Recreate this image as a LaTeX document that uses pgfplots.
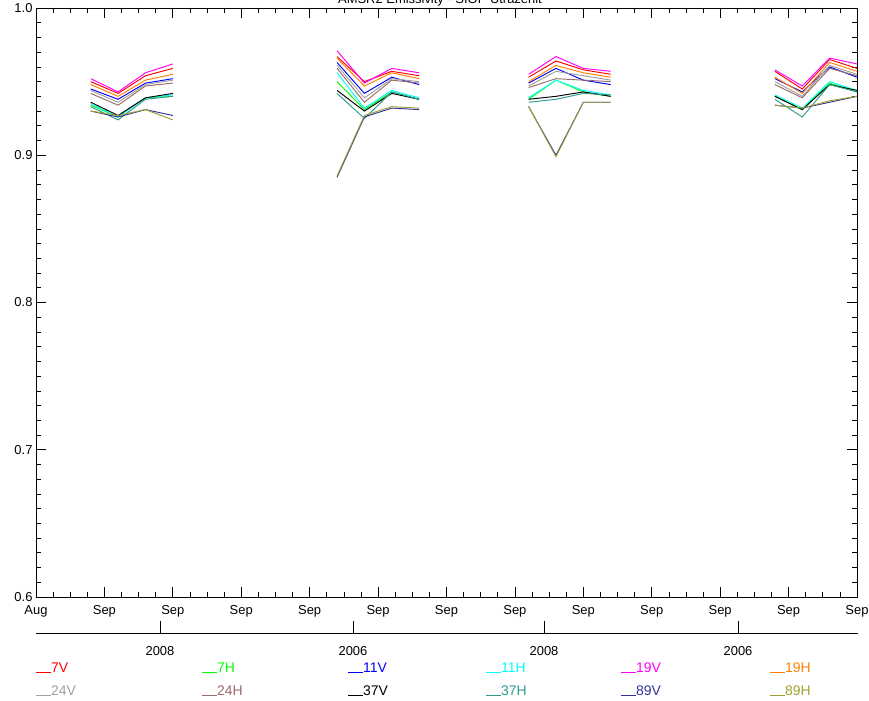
\documentclass[border=0pt]{standalone}
\usepackage{pgfplots}
\pgfplotsset{compat=1.18}
\usepackage{pgfplotstable}
\usepackage{fontspec}
\setmainfont{Liberation Sans}

\definecolor{cV7}{HTML}{FF0000}
\definecolor{cH7}{HTML}{00FF00}
\definecolor{cV11}{HTML}{0000FF}
\definecolor{cH11}{HTML}{00FFFF}
\definecolor{cV19}{HTML}{FF00FF}
\definecolor{cH19}{HTML}{FF8000}
\definecolor{cV24}{HTML}{A0A0A0}
\definecolor{cH24}{HTML}{9A6B6B}
\definecolor{cV37}{HTML}{000000}
\definecolor{cH37}{HTML}{2E9A90}
\definecolor{cV89}{HTML}{32329A}
\definecolor{cH89}{HTML}{A0A032}

\pgfplotstableread{
x    v7    h7    v11   h11   v19   h19   v24   h24   v37   h37   v89   h89
0.8  0.950 0.934 0.945 0.935 0.952 0.948 0.944 0.942 0.936 0.933 0.930 0.930
1.2  0.942 0.926 0.938 0.926 0.943 0.940 0.936 0.934 0.927 0.924 0.926 0.927
1.6  0.954 0.939 0.949 0.939 0.956 0.951 0.948 0.947 0.939 0.938 0.931 0.931
2.0  0.959 0.940 0.952 0.941 0.962 0.955 0.951 0.949 0.942 0.940 0.927 0.924
3.0  nan   nan   nan   nan   nan   nan   nan   nan   nan   nan   nan   nan
4.4  0.967 0.950 0.963 0.956 0.971 0.966 0.961 0.959 0.944 0.942 0.885 0.886
4.8  0.950 0.931 0.942 0.932 0.949 0.947 0.939 0.936 0.930 0.925 0.926 0.927
5.2  0.957 0.943 0.953 0.944 0.959 0.956 0.952 0.951 0.942 0.943 0.932 0.933
5.6  0.954 0.938 0.948 0.939 0.956 0.952 0.950 0.949 0.938 0.938 0.931 0.932
6.5  nan   nan   nan   nan   nan   nan   nan   nan   nan   nan   nan   nan
7.2  0.953 0.938 0.949 0.939 0.955 0.950 0.947 0.946 0.938 0.936 0.933 0.933
7.6  0.964 0.951 0.959 0.951 0.967 0.961 0.957 0.952 0.940 0.938 0.900 0.899
8.0  0.958 0.943 0.951 0.944 0.959 0.956 0.954 0.951 0.943 0.942 0.936 0.936
8.4  0.955 0.940 0.948 0.941 0.957 0.953 0.951 0.950 0.940 0.941 0.936 0.936
9.5  nan   nan   nan   nan   nan   nan   nan   nan   nan   nan   nan   nan
10.8 0.957 0.940 0.952 0.941 0.958 0.953 0.950 0.948 0.940 0.938 0.934 0.934
11.2 0.945 0.931 0.943 0.932 0.947 0.942 0.940 0.939 0.931 0.926 0.932 0.932
11.6 0.965 0.949 0.960 0.950 0.966 0.963 0.961 0.959 0.948 0.948 0.936 0.937
12.0 0.959 0.943 0.953 0.944 0.962 0.957 0.955 0.954 0.944 0.943 0.940 0.940
}\data

\begin{document}
\begin{tikzpicture}[font=\fontsize{13}{15}\selectfont]
\begin{axis}[
  at={(0,0)}, anchor=south west,
  scale only axis, width=821bp, height=589bp,
  xmin=0, xmax=12, ymin=0.6, ymax=1.0,
  enlargelimits=false,
  xtick={0,1,2,3,4,5,6,7,8,9,10,11,12},
  xticklabels={Aug,Sep,Sep,Sep,Sep,Sep,Sep,Sep,Sep,Sep,Sep,Sep,Sep},
  ytick={0.6,0.7,0.8,0.9,1.0},
  yticklabel style={/pgf/number format/.cd,fixed,fixed zerofill,precision=1},
  /pgf/number format/assume math mode=true,
  tick label style={font=\fontsize{13}{15}\selectfont},
  minor x tick num=3, minor y tick num=9,
  major tick length=10bp, minor tick length=5bp,
  tick style={black, line width=0.7pt},
  axis line style={line width=0.9pt},
  xticklabel style={yshift=-5bp},
  unbounded coords=jump,
  every axis plot/.append style={line width=0.95pt, mark=none},
]
\addplot[cV7]  table[x=x,y=v7]  {\data};
\addplot[cH7]  table[x=x,y=h7]  {\data};
\addplot[cV11] table[x=x,y=v11] {\data};
\addplot[cH11] table[x=x,y=h11] {\data};
\addplot[cV19] table[x=x,y=v19] {\data};
\addplot[cH19] table[x=x,y=h19] {\data};
\addplot[cV24] table[x=x,y=v24] {\data};
\addplot[cH24] table[x=x,y=h24] {\data};
\addplot[cV37] table[x=x,y=v37] {\data};
\addplot[cH37] table[x=x,y=h37] {\data};
\addplot[cV89] table[x=x,y=v89] {\data};
\addplot[cH89] table[x=x,y=h89] {\data};
\end{axis}

% title (partially cut at top, as in the reference)
\node[anchor=base] at (404bp,593bp) {AMSR2 Emissivity - SIOP Utrazenit};

% secondary year axis
\draw[line width=0.9pt] (0bp,-36bp) -- (822bp,-36bp);
\foreach \xx/\lab in {124/2008,317/2006,508/2008,702/2006}{
  \draw[line width=0.7pt] (\xx bp,-36bp) -- (\xx bp,-24bp);
  \node[anchor=base] at (\xx bp,-58bp) {\lab};
}

% legend
\foreach \xx/\yy/\col/\lab in {
  0/-75/cV7/7V, 166/-75/cH7/7H, 312/-75/cV11/11V, 450/-75/cH11/11H, 585/-75/cV19/19V, 734/-75/cH19/19H,
  0/-98/cV24/24V, 166/-98/cH24/24H, 312/-98/cV37/37V, 450/-98/cH37/37H, 585/-98/cV89/89V, 734/-98/cH89/89H}{
  \draw[\col, line width=0.9pt] (\xx bp,\yy bp) -- ++(15bp,0);
  \node[anchor=base west, inner sep=0pt, text=\col, font=\fontsize{14}{16}\selectfont] at (\xx bp+15bp,\yy bp) {\lab};
}

\pgfresetboundingbox
\useasboundingbox (-36bp,-104bp) rectangle (833bp,597bp);
\end{tikzpicture}
\end{document}
